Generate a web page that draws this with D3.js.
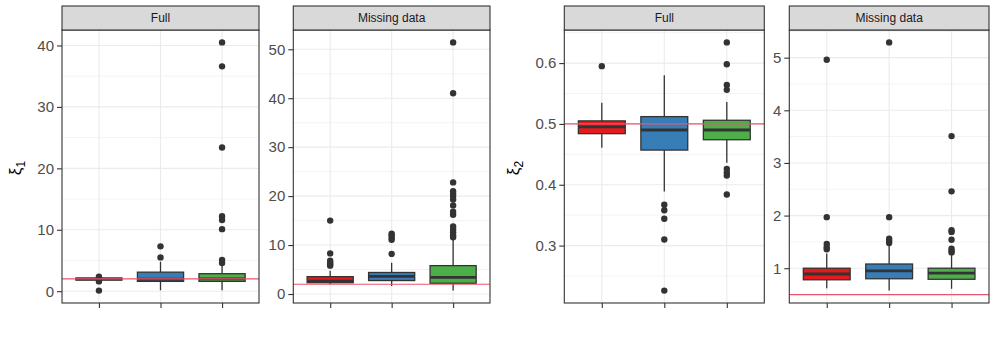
<!DOCTYPE html>
<html>
<head>
<meta charset="utf-8">
<script src="https://cdn.jsdelivr.net/npm/d3@7"></script>
<style>
    body { margin: 0; background: #fff; }
    text { font-family: "Liberation Sans", Arial, sans-serif; }
</style>
</head>
<body>
<div id="chart"></div>
<script>
// methods on the x axis (no labels shown in the figure)
var methods = ['m1', 'm2', 'm3'];
var methodColors = ['#E41A1C', '#377EB8', '#4DAF4A'];
var facets = ['Full', 'Missing data'];

// true parameter values (horizontal reference lines)
var trueXi1 = 2;
var trueXi2 = 0.5;

// box statistics: q1, median, q3, whisker low/high, outliers
var xi1Full = [
    {q1: 1.82, med: 1.98, q3: 2.15, lo: 1.75, hi: 2.22, out: [2.35, 1.6, 0.1]},
    {q1: 1.6, med: 1.95, q3: 3.1, lo: 0.15, hi: 4.8, out: [5.5, 7.3]},
    {q1: 1.6, med: 2.0, q3: 2.85, lo: 0.15, hi: 4.1, out: [4.6, 5.1, 10.1, 11.6, 12.2, 23.4, 36.6, 40.5]}
];
var xi1Missing = [
    {q1: 2.3, med: 2.65, q3: 3.55, lo: 2.05, hi: 4.75, out: [5.8, 6.1, 6.4, 6.8, 8.3, 15.0]},
    {q1: 2.75, med: 3.6, q3: 4.4, lo: 1.65, hi: 6.4, out: [8.2, 11.1, 11.5, 12.0, 12.3]},
    {q1: 2.2, med: 3.4, q3: 5.8, lo: 0.7, hi: 11.2, out: [11.6, 12.0, 12.6, 13.2, 13.8, 16.2, 16.8, 18.1, 19.3, 20.0, 20.5, 21.0, 22.8, 41.0, 51.4]}
];
var xi2Full = [
    {q1: 0.484, med: 0.495, q3: 0.505, lo: 0.461, hi: 0.535, out: [0.595]},
    {q1: 0.457, med: 0.490, q3: 0.512, lo: 0.389, hi: 0.580, out: [0.367, 0.358, 0.344, 0.310, 0.226]},
    {q1: 0.474, med: 0.490, q3: 0.506, lo: 0.436, hi: 0.536, out: [0.426, 0.420, 0.415, 0.384, 0.556, 0.564, 0.598, 0.634]}
];
var xi2Missing = [
    {q1: 0.78, med: 0.89, q3: 1.0, lo: 0.62, hi: 1.28, out: [1.36, 1.40, 1.46, 1.97, 4.96]},
    {q1: 0.80, med: 0.95, q3: 1.08, lo: 0.575, hi: 1.44, out: [1.48, 1.52, 1.56, 1.97, 5.29]},
    {q1: 0.79, med: 0.905, q3: 1.0, lo: 0.61, hi: 1.25, out: [1.30, 1.33, 1.37, 1.54, 1.69, 1.72, 2.46, 3.51]}
];

var xi1FullTicks = [0, 10, 20, 30, 40];
var xi1MissingTicks = [0, 10, 20, 30, 40, 50];
var xi2FullTicks = [0.3, 0.4, 0.5, 0.6];
var xi2MissingTicks = [1, 2, 3, 4, 5];

var width = 997;
var height = 341;
var stripTop = 6;
var panelTop = 30;
var panelBottom = 303;

const svg = d3.select('#chart')
    .append('svg')
    .attr('width', width)
    .attr('height', height)
    .attr('viewBox', [0, 0, width, height]);

function drawPanel(x0, x1, facet, stats, ticks, trueValue) {
    var all = [];
    stats.forEach(s => { all.push(s.lo, s.hi); all = all.concat(s.out); });
    var lo = d3.min(all), hi = d3.max(all), pad = (hi - lo) * 0.05;

    var y = d3.scaleLinear()
        .domain([lo - pad, hi + pad])
        .range([panelBottom, panelTop]);
    var x = d3.scalePoint()
        .domain(methods)
        .range([x0, x1])
        .padding(0.6);
    var boxW = x.step() * 0.75;

    var g = svg.append('g');

    // minor grid
    var minor = [];
    for (var i = 0; i < ticks.length - 1; i++) minor.push((ticks[i] + ticks[i + 1]) / 2);
    var step = ticks[1] - ticks[0];
    minor.push(ticks[0] - step / 2, ticks[ticks.length - 1] + step / 2);
    var yd = y.domain();
    g.selectAll('.minor')
        .data(minor.filter(v => v > yd[0] && v < yd[1]))
        .join('line')
        .attr('x1', x0).attr('x2', x1)
        .attr('y1', d => y(d)).attr('y2', d => y(d))
        .attr('stroke', '#EBEBEB').attr('stroke-width', 0.6);

    // major grid
    g.selectAll('.major')
        .data(ticks)
        .join('line')
        .attr('x1', x0).attr('x2', x1)
        .attr('y1', d => y(d)).attr('y2', d => y(d))
        .attr('stroke', '#EBEBEB').attr('stroke-width', 1.1);
    g.selectAll('.vmajor')
        .data(methods)
        .join('line')
        .attr('x1', d => x(d)).attr('x2', d => x(d))
        .attr('y1', panelTop).attr('y2', panelBottom)
        .attr('stroke', '#EBEBEB').attr('stroke-width', 1.1);

    // boxplots
    var b = g.selectAll('.box')
        .data(stats)
        .join('g');
    b.append('line')
        .attr('x1', (d, i) => x(methods[i])).attr('x2', (d, i) => x(methods[i]))
        .attr('y1', d => y(d.hi)).attr('y2', d => y(d.q3))
        .attr('stroke', '#333').attr('stroke-width', 1.3);
    b.append('line')
        .attr('x1', (d, i) => x(methods[i])).attr('x2', (d, i) => x(methods[i]))
        .attr('y1', d => y(d.q1)).attr('y2', d => y(d.lo))
        .attr('stroke', '#333').attr('stroke-width', 1.3);
    b.append('rect')
        .attr('x', (d, i) => x(methods[i]) - boxW / 2)
        .attr('width', boxW)
        .attr('y', d => y(d.q3))
        .attr('height', d => y(d.q1) - y(d.q3))
        .attr('fill', (d, i) => methodColors[i])
        .attr('stroke', '#333').attr('stroke-width', 1.3);
    b.append('line')
        .attr('x1', (d, i) => x(methods[i]) - boxW / 2)
        .attr('x2', (d, i) => x(methods[i]) + boxW / 2)
        .attr('y1', d => y(d.med)).attr('y2', d => y(d.med))
        .attr('stroke', '#333').attr('stroke-width', 2.8);
    b.each(function (d, i) {
        d3.select(this).selectAll('circle')
            .data(d.out)
            .join('circle')
            .attr('cx', x(methods[i]))
            .attr('cy', v => y(v))
            .attr('r', 3.2)
            .attr('fill', '#333');
    });

    // true value
    g.append('line')
        .attr('x1', x0).attr('x2', x1)
        .attr('y1', y(trueValue)).attr('y2', y(trueValue))
        .attr('stroke', '#E8566E').attr('stroke-width', 1.2);

    // panel border
    g.append('rect')
        .attr('x', x0).attr('y', panelTop)
        .attr('width', x1 - x0).attr('height', panelBottom - panelTop)
        .attr('fill', 'none').attr('stroke', '#333').attr('stroke-width', 1.1);

    // strip
    g.append('rect')
        .attr('x', x0).attr('y', stripTop)
        .attr('width', x1 - x0).attr('height', panelTop - stripTop)
        .attr('fill', '#D9D9D9').attr('stroke', '#333').attr('stroke-width', 1.1);
    g.append('text')
        .attr('x', (x0 + x1) / 2).attr('y', (stripTop + panelTop) / 2 + 4)
        .attr('text-anchor', 'middle')
        .attr('font-size', 12)
        .attr('fill', '#1A1A1A')
        .text(facet);

    // axes
    var yAxis = svg.append('g')
        .attr('transform', `translate(${x0},0)`)
        .call(d3.axisLeft(y).tickValues(ticks).tickSize(5).tickPadding(3).tickFormat(d3.format('')))
        .call(g => g.select('.domain').remove());
    yAxis.selectAll('line').attr('stroke', '#333').attr('stroke-width', 1.1);
    yAxis.selectAll('text')
        .attr('font-size', 15)
        .attr('fill', '#4D4D4D')
        .style('font-family', '"Liberation Sans", Arial, sans-serif');

    var xAxis = svg.append('g')
        .attr('transform', `translate(0,${panelBottom})`)
        .call(d3.axisBottom(x).tickSize(5).tickFormat(''))
        .call(g => g.select('.domain').remove());
    xAxis.selectAll('line').attr('stroke', '#333').attr('stroke-width', 1.1);
}

function axisTitle(xPos, sub) {
    var t = svg.append('text')
        .attr('transform', `translate(${xPos},168) rotate(-90)`)
        .attr('text-anchor', 'middle')
        .attr('font-size', 17)
        .attr('fill', '#000');
    t.append('tspan').text('ξ');
    t.append('tspan').attr('font-size', 12).attr('dy', 4).text(sub);
}

drawPanel(62, 259, facets[0], xi1Full, xi1FullTicks, trueXi1);
drawPanel(293.3, 490, facets[1], xi1Missing, xi1MissingTicks, trueXi1);
drawPanel(564.3, 764.3, facets[0], xi2Full, xi2FullTicks, trueXi2);
drawPanel(789.3, 989, facets[1], xi2Missing, xi2MissingTicks, trueXi2);
axisTitle(21, '1');
axisTitle(519, '2');
</script>
</body>
</html>
